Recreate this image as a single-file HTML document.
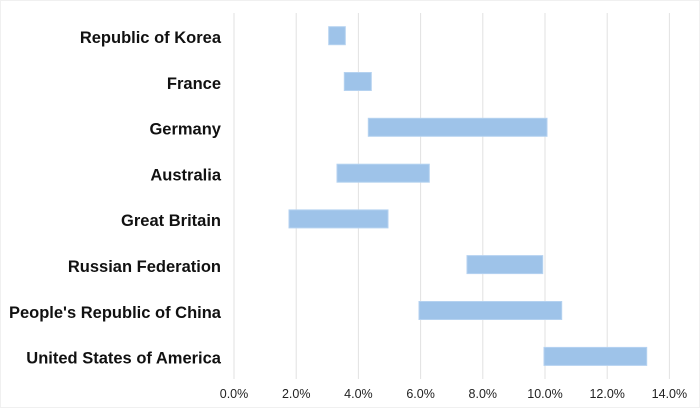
<!DOCTYPE html>
<html><head><style>
html,body{margin:0;padding:0;background:#fff;}
svg{display:block;}
</style></head><body>
<svg width="700" height="408" xmlns="http://www.w3.org/2000/svg">
<rect x="0.5" y="0.5" width="699" height="407" fill="#fff" stroke="#f0f0f0"/>
<g stroke="#e2e2e2" stroke-width="1">
<line x1="234" y1="13" x2="234" y2="379"/>
<line x1="296.2" y1="13" x2="296.2" y2="379"/>
<line x1="358.4" y1="13" x2="358.4" y2="379"/>
<line x1="420.6" y1="13" x2="420.6" y2="379"/>
<line x1="482.8" y1="13" x2="482.8" y2="379"/>
<line x1="545" y1="13" x2="545" y2="379"/>
<line x1="607.2" y1="13" x2="607.2" y2="379"/>
<line x1="669.4" y1="13" x2="669.4" y2="379"/>
</g>
<g fill="#9ec3e9" stroke="#b5d2f0" stroke-width="1">
<rect x="328.7" y="26.7" width="16.6" height="18"/>
<rect x="344.3" y="72.5" width="27" height="18"/>
<rect x="368.3" y="118.3" width="178.7" height="18"/>
<rect x="337" y="164.2" width="92.3" height="18"/>
<rect x="289" y="209.9" width="99" height="18"/>
<rect x="467" y="255.6" width="75.7" height="18"/>
<rect x="419" y="301.5" width="142.7" height="18"/>
<rect x="544" y="347.4" width="102.7" height="18"/>
</g>
<g font-family="Liberation Sans, sans-serif" font-weight="bold" font-size="16.5" fill="#111" text-anchor="end">
<text x="221" y="43">Republic of Korea</text>
<text x="221" y="88.8">France</text>
<text x="221" y="134.6">Germany</text>
<text x="221" y="180.5">Australia</text>
<text x="221" y="226.2">Great Britain</text>
<text x="221" y="271.9">Russian Federation</text>
<text x="221" y="317.8">People's Republic of China</text>
<text x="221" y="363.7">United States of America</text>
</g>
<g font-family="Liberation Sans, sans-serif" font-size="12.5" fill="#222" text-anchor="middle">
<text x="234" y="398">0.0%</text>
<text x="296.2" y="398">2.0%</text>
<text x="358.4" y="398">4.0%</text>
<text x="420.6" y="398">6.0%</text>
<text x="482.8" y="398">8.0%</text>
<text x="545" y="398">10.0%</text>
<text x="607.2" y="398">12.0%</text>
<text x="669.4" y="398">14.0%</text>
</g>
</svg>
</body></html>
